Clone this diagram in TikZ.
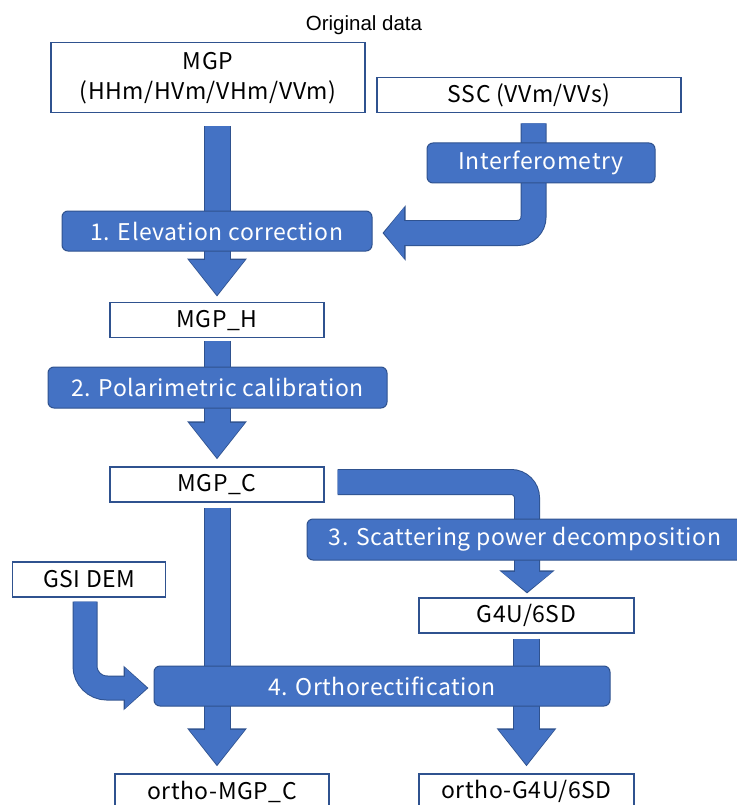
\documentclass[tikz,border=0pt]{standalone}
\usepackage{fontspec}
\setmainfont{Noto Sans CJK JP}[LetterSpace=2.5]
\newfontfamily\arialfont{Liberation Sans}
\usepackage{tikz}
\usetikzlibrary{arrows.meta,positioning,calc,backgrounds}
\definecolor{offblue}{HTML}{4472C4}
\definecolor{offline}{HTML}{2F528F}
\tikzset{
  x=1pt, y=-1pt,
  db/.style  ={draw=offline, line width=1.2pt, fill=white, minimum height=35pt, inner sep=0pt, font=\fontsize{23}{30}\selectfont},
  pb/.style  ={draw=offline, line width=1pt, fill=offblue, rounded corners=6pt, minimum height=40pt, inner sep=0pt, text=white, font=\fontsize{23}{30}\selectfont},
  arr/.style ={draw=offblue, rounded corners=16pt, shorten >=1.5pt},
  fat/.style ={arr, line width=25pt, -{Triangle[length=35pt,width=53pt]},
               preaction={draw=offline, line width=27pt, shorten >=0pt, -{Triangle[length=38pt,width=57pt]}}},
  bent/.style={arr, line width=24pt, -{Triangle[length=20pt,width=50pt]},
               preaction={draw=offline, line width=26pt, shorten >=0pt, -{Triangle[length=23pt,width=54pt]}}},
  dem/.style ={arr, line width=23pt, rounded corners=22pt, -{Triangle[length=22pt,width=39pt]},
               preaction={draw=offline, line width=25pt, shorten >=0pt, -{Triangle[length=25pt,width=43pt]}}}
}

\begin{document}
\begin{tikzpicture}
\useasboundingbox (0,0) rectangle (736,805);
\node[font=\arialfont\fontsize{20.5}{24}\selectfont] (orig) at (364,25) {Original data};
\node[db, minimum width=314pt, minimum height=70pt, align=center] (mgp) at (208,77.7) {MGP\\(HHm/HVm/VHm/VVm)};
\node[db, minimum width=304pt] (ssc) at (529,95.3) {SSC (VVm/VVs)};
\node[pb, minimum width=228pt] (inf) at (541,163) {Interferometry};
\node[pb, minimum width=310pt] (elev) at (217,231) {1. Elevation correction};
\node[db, minimum width=214pt] (mgph) at (217,320.3) {MGP\_H};
\node[pb, minimum width=339pt, minimum height=41pt] (pol) at (217.5,387.5) {2. Polarimetric calibration};
\node[db, minimum width=214pt] (mgpc) at (217,484.5) {MGP\_C};
\node[pb, minimum width=436pt, minimum height=41pt] (scat) at (525,539.5) {3. Scattering power decomposition};
\node[db, minimum width=153pt] (gsi) at (89.3,579.5) {GSI DEM};
\node[db, minimum width=215pt] (g4u) at (526.5,615.5) {G4U/6SD};
\node[pb, minimum width=456pt] (orth) at (382,686) {4. Orthorectification};
\node[db, minimum width=214pt] (omgpc) at (222,791.5) {ortho-MGP\_C};
\node[db, minimum width=215pt] (og4u) at (526.5,791.5) {ortho-G4U/6SD};

\begin{scope}[on background layer]
\fill[white] (0,0) rectangle (736,805);
\draw[fat] ($(mgp.south -| mgph.north)+(0,13)$) -- ($(mgph.north)+(0,-5.5)$);
\draw[bent] ($(ssc.south)+(4.5,10)$) |- ($(elev.east)+(10,2)$);
\draw[fat] ($(mgph.south)+(0,3)$) -- ($(mgpc.north)+(0,-7)$);
\draw[bent] ($(mgpc.east)+(13,-2.5)$) -| ($(g4u.north)+(0.5,-4)$);
\draw[fat] ($(mgpc.south)+(0,5)$) -- ($(mgpc.south |- omgpc.north)+(0,-7)$);
\draw[fat] ($(g4u.south)+(0,5)$) -- ($(og4u.north)+(0,-7)$);
\draw[dem] ($(gsi.south)+(-4.3,4)$) |- ($(orth.west)+(-5,2)$);
\end{scope}
\end{tikzpicture}
\end{document}
